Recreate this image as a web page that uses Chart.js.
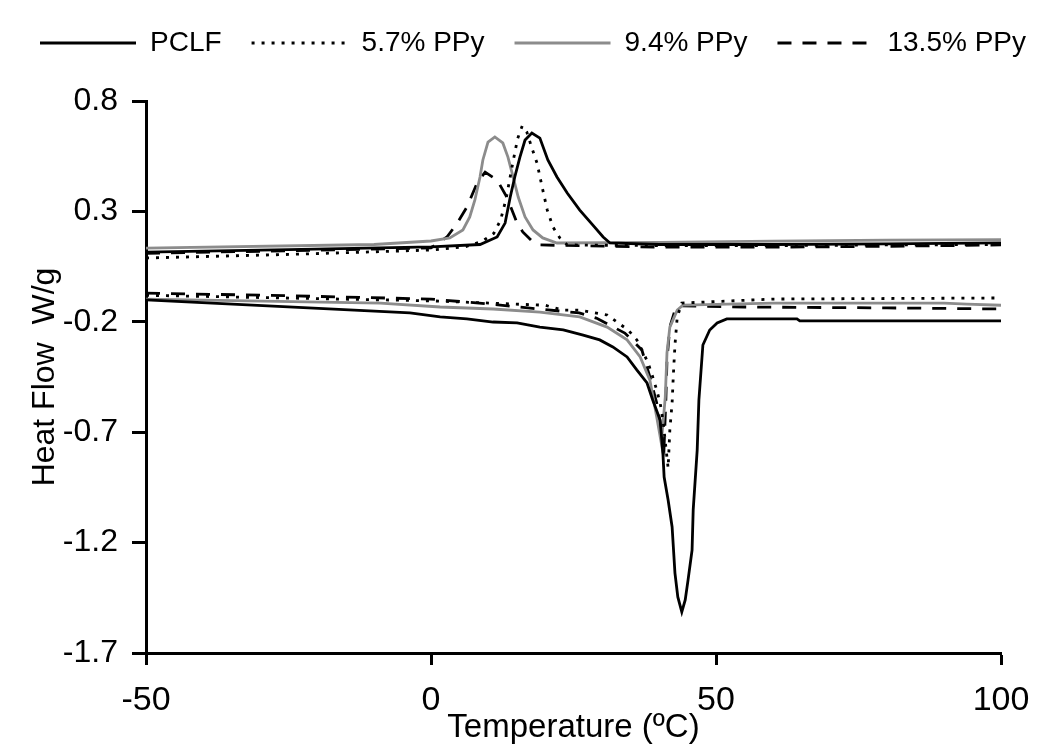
<!DOCTYPE html>
<html>
<head>
<meta charset="utf-8">
<script src="https://cdn.jsdelivr.net/npm/chart.js@4.4.0/dist/chart.umd.min.js"></script>
<style>
html,body{margin:0;padding:0;background:#fff;}
#wrap{width:1050px;height:756px;position:relative;}
</style>
</head>
<body>
<div id="wrap"><canvas id="c" width="1050" height="756"></canvas></div>
<script>
// ---- Data (temperature in °C, heat flow in W/g) ----
const seriesNames = ["PCLF", "5.7% PPy", "9.4% PPy", "13.5% PPy"];

// Cooling (exothermic crystallization peaks)
const pclfCoolT  = [-50, -25, 0, 8.6, 11.6, 13.0, 13.9, 14.7, 15.6, 16.5, 17.7, 19.1, 20.5, 22.1, 23.9, 26.1, 28.4, 30.2, 31.4, 40, 60, 80, 100];
const pclfCoolHF = [0.116, 0.127, 0.139, 0.150, 0.184, 0.247, 0.365, 0.456, 0.546, 0.623, 0.655, 0.632, 0.533, 0.456, 0.383, 0.306, 0.238, 0.184, 0.157, 0.150, 0.150, 0.153, 0.157];

const ppy57CoolT  = [-50, -25, 0, 6, 9, 11, 12.2, 13.2, 14.2, 15.2, 16.0, 16.8, 17.7, 18.6, 19.5, 20.4, 21.4, 22.6, 23.9, 40, 60, 80, 100];
const ppy57CoolHF = [0.089, 0.105, 0.125, 0.140, 0.165, 0.200, 0.260, 0.360, 0.500, 0.630, 0.687, 0.660, 0.587, 0.519, 0.410, 0.306, 0.229, 0.180, 0.148, 0.145, 0.145, 0.148, 0.150];

const ppy94CoolT  = [-50, -10, 0, 3.3, 5.6, 6.8, 7.7, 8.6, 9.1, 10.0, 11.2, 12.6, 13.5, 14.4, 15.3, 16.5, 17.9, 19.6, 22.1, 40, 60, 80, 100];
const ppy94CoolHF = [0.134, 0.150, 0.166, 0.180, 0.216, 0.275, 0.352, 0.456, 0.533, 0.614, 0.637, 0.610, 0.546, 0.456, 0.365, 0.275, 0.216, 0.180, 0.157, 0.160, 0.165, 0.170, 0.172];

const ppy135CoolT  = [-50, -25, 0, 2.8, 4.6, 6.3, 8.1, 9.5, 11.6, 13.3, 15.1, 16.1, 17.9, 19.1, 40, 60, 80, 100];
const ppy135CoolHF = [0.110, 0.122, 0.135, 0.184, 0.247, 0.320, 0.429, 0.478, 0.442, 0.365, 0.247, 0.207, 0.161, 0.148, 0.138, 0.138, 0.142, 0.148];

// Heating (endothermic melting peaks)
const pclfHeatT  = [-50, -3.7, 1.6, 6.3, 10.9, 15.1, 19.1, 23.2, 26.7, 29.6, 31.9, 34.4, 36.1, 37.9, 38.9, 40.2, 40.7, 40.9, 41.6, 42.3, 42.8, 43.3, 44.0, 44.6, 45.1, 45.8, 46.0, 46.7, 47.0, 47.7, 48.9, 50.2, 51.9, 64.2, 64.7, 100];
const pclfHeatHF = [-0.101, -0.160, -0.178, -0.187, -0.201, -0.205, -0.224, -0.237, -0.260, -0.282, -0.314, -0.359, -0.418, -0.477, -0.554, -0.645, -0.803, -0.903, -1.007, -1.129, -1.338, -1.446, -1.514, -1.460, -1.369, -1.234, -1.052, -0.781, -0.554, -0.305, -0.237, -0.205, -0.187, -0.187, -0.196, -0.196];

const ppy57HeatT  = [-50, 0, 20, 23.2, 26.1, 30.9, 32.6, 34.6, 36.1, 37.2, 38.1, 38.9, 39.6, 40.2, 40.7, 41.2, 41.6, 41.9, 42.3, 42.5, 42.8, 43.2, 44.0, 60, 100];
const ppy57HeatHF = [-0.080, -0.105, -0.125, -0.147, -0.147, -0.169, -0.201, -0.237, -0.282, -0.337, -0.387, -0.450, -0.509, -0.568, -0.645, -0.767, -0.862, -0.690, -0.568, -0.450, -0.305, -0.178, -0.115, -0.097, -0.092];

const ppy94HeatT  = [-50, -8.9, 1.6, 10.9, 19.1, 26.1, 30.9, 34.4, 36.7, 38.4, 39.6, 40.4, 41.1, 41.4, 41.9, 43.2, 44.2, 60, 90, 94, 100];
const ppy94HeatHF = [-0.097, -0.115, -0.133, -0.142, -0.156, -0.178, -0.224, -0.282, -0.359, -0.464, -0.631, -0.749, -0.541, -0.341, -0.224, -0.147, -0.124, -0.115, -0.115, -0.120, -0.125];

const ppy135HeatT  = [-50, -25, 0, 10, 17, 26, 29, 34, 37, 38.4, 39.6, 40.4, 40.9, 41.2, 41.4, 41.9, 42.8, 44, 55, 80, 100];
const ppy135HeatHF = [-0.070, -0.082, -0.097, -0.119, -0.137, -0.160, -0.183, -0.251, -0.328, -0.450, -0.568, -0.690, -0.758, -0.554, -0.373, -0.224, -0.147, -0.128, -0.133, -0.137, -0.142];

const xTicks = [-50, 0, 50, 100];
const yTicks = [-1.7, -1.2, -0.7, -0.2, 0.3, 0.8];

const FONT = '"Liberation Sans", Arial, sans-serif';

// ---- Build chart ----
const pts = (xs, ys) => xs.map((x, i) => ({x: x, y: ys[i]}));
const styles = [
  {color: '#000000', dash: []},
  {color: '#000000', dash: [3, 7]},
  {color: '#8c8c8c', dash: []},
  {color: '#000000', dash: [14, 11]}
];
const cool = [[pclfCoolT, pclfCoolHF], [ppy57CoolT, ppy57CoolHF], [ppy94CoolT, ppy94CoolHF], [ppy135CoolT, ppy135CoolHF]];
const heat = [[pclfHeatT, pclfHeatHF], [ppy57HeatT, ppy57HeatHF], [ppy94HeatT, ppy94HeatHF], [ppy135HeatT, ppy135HeatHF]];

const datasets = [];
[cool, heat].forEach(group => {
  group.forEach((d, i) => {
    datasets.push({
      label: seriesNames[i],
      data: pts(d[0], d[1]),
      borderColor: styles[i].color,
      backgroundColor: styles[i].color,
      borderDash: styles[i].dash,
      borderWidth: 2.8,
      pointRadius: 0,
      tension: 0,
      fill: false
    });
  });
});

// Legend placement helper: fixed legend band height and small offset
const legendBand = {
  id: 'legendBand',
  beforeLayout(chart) {
    const lg = chart.legend;
    if (!lg || lg._banded) return;
    const origFit = lg.fit.bind(lg);
    lg.fit = function () { origFit(); this.height = 101; };
    const origDraw = lg.draw.bind(lg);
    lg.draw = function (a) {
      const ctx = this.ctx;
      ctx.save();
      ctx.translate(10, -1);
      origDraw(a);
      ctx.restore();
    };
    lg._banded = true;
  }
};

new Chart(document.getElementById('c'), {
  type: 'line',
  data: {datasets: datasets},
  plugins: [legendBand],
  options: {
    responsive: false,
    animation: false,
    devicePixelRatio: 1,
    layout: {padding: {top: 0, right: 0, bottom: 0, left: 0}},
    plugins: {
      tooltip: {enabled: false},
      legend: {
        display: true,
        position: 'top',
        align: 'start',
        labels: {
          generateLabels: (chart) => chart.data.datasets.slice(0, 4).map((ds, i) => ({
            text: ds.label,
            strokeStyle: ds.borderColor,
            fillStyle: ds.borderColor,
            lineWidth: 2.8,
            lineDash: ds.borderDash,
            pointStyle: 'line',
            hidden: false,
            datasetIndex: i,
            fontColor: '#000'
          })),
          usePointStyle: true,
          pointStyle: 'line',
          pointStyleWidth: 96,
          boxHeight: 28,
          padding: 30,
          color: '#000',
          font: {family: FONT, size: 28}
        }
      }
    },
    scales: {
      x: {
        type: 'linear',
        min: -50,
        max: 100,
        afterFit: (s) => { s.height = 103; s.paddingRight = 49; },
        afterBuildTicks: (s) => { s.ticks = xTicks.map(v => ({value: v})); },
        border: {display: true, color: '#000', width: 3},
        grid: {display: true, drawOnChartArea: false, drawTicks: true, tickLength: 12, tickWidth: 3, tickColor: '#000'},
        ticks: {color: '#000', padding: 15, font: {family: FONT, size: 34}, maxRotation: 0, callback: (v) => String(v)},
        title: {display: true, text: 'Temperature (ºC)', color: '#000', font: {family: FONT, size: 33}, padding: {top: 0, bottom: 8}}
      },
      y: {
        type: 'linear',
        min: -1.7,
        max: 0.8,
        afterFit: (s) => { s.width = 146; },
        afterBuildTicks: (s) => { s.ticks = yTicks.map(v => ({value: v})); },
        border: {display: true, color: '#000', width: 3},
        grid: {display: true, drawOnChartArea: false, drawTicks: true, tickLength: 14, tickWidth: 3, tickColor: '#000'},
        ticks: {color: '#000', padding: 14, font: {family: FONT, size: 32}, callback: (v) => Number(v).toFixed(1)},
        title: {display: true, text: 'Heat Flow  W/g', color: '#000', font: {family: FONT, size: 32}, padding: {top: 26, bottom: 0}}
      }
    }
  }
});
</script>
</body>
</html>
